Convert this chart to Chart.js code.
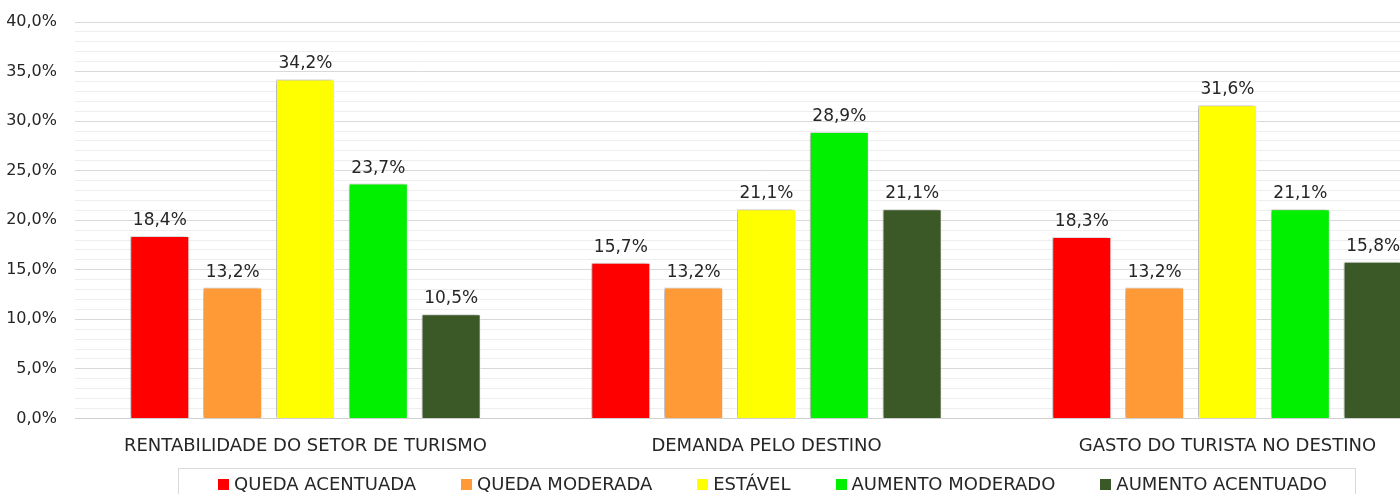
<!DOCTYPE html>
<html>
<head>
<meta charset="utf-8">
<script src="https://cdn.jsdelivr.net/npm/chart.js@4/dist/chart.umd.min.js"></script>
<style>
  html, body { margin: 0; padding: 0; background: #fff; overflow: hidden; }
  #wrap { position: absolute; left: 0; top: 0; width: 1460px; height: 494px; }
</style>
</head>
<body>
<div id="wrap"><canvas id="turismo" width="1460" height="494"></canvas></div>
<script>
// categories + series
var categorias = ["RENTABILIDADE DO SETOR DE TURISMO", "DEMANDA PELO DESTINO", "GASTO DO TURISTA NO DESTINO"];
var queda_acentuada = [18.4, 15.7, 18.3];
var queda_moderada = [13.2, 13.2, 13.2];
var estavel = [34.2, 21.1, 31.6];
var aumento_moderado = [23.7, 28.9, 21.1];
var aumento_acentuado = [10.5, 21.1, 15.8];

var fonte = "'DejaVu Sans', sans-serif";

function pct(v) {
	return v.toFixed(1).replace(".", ",") + "%";
}

// shadow on the left of the bars, value labels, legend in a box
var barras_plugin = {
	id: "barras",
	beforeDatasetsDraw: function (chart) {
		var c = chart.ctx;
		c.save();
		c.shadowColor = "rgba(0,0,0,0.35)";
		c.shadowBlur = 4;
		c.shadowOffsetX = -2;
		c.shadowOffsetY = 0;
	},
	afterDatasetsDraw: function (chart) {
		var c = chart.ctx;
		c.restore();
		c.save();
		c.font = "17px " + fonte;
		c.fillStyle = "#262626";
		c.textAlign = "center";
		c.textBaseline = "alphabetic";
		chart.data.datasets.forEach(function (ds, i) {
			chart.getDatasetMeta(i).data.forEach(function (bar, j) {
				c.fillText(pct(ds.data[j]), bar.x, bar.y - 11);
			});
		});
		c.restore();
	},
	afterDraw: function (chart) {
		var c = chart.ctx;
		var area = chart.chartArea;
		var sets = chart.data.datasets;
		c.save();
		c.font = "18px " + fonte;
		var caixa = 11, folga = 5, entre = 45;
		var total = 0;
		sets.forEach(function (ds, i) {
			total += caixa + folga + c.measureText(ds.label).width;
			if (i > 0) total += entre;
		});
		var x = (area.left + area.right) / 2 + 6 - total / 2;
		var yc = 484;
		c.strokeStyle = "#d9d9d9";
		c.lineWidth = 1;
		c.strokeRect(Math.round(x - 40) + 0.5, 468.5, Math.round(total + 68), 60);
		c.textBaseline = "middle";
		c.textAlign = "left";
		sets.forEach(function (ds) {
			c.fillStyle = ds.backgroundColor;
			c.fillRect(Math.round(x), yc - 5, caixa, caixa);
			c.fillStyle = "#262626";
			c.fillText(ds.label, x + caixa + folga, yc + 1);
			x += caixa + folga + c.measureText(ds.label).width + entre;
		});
		c.restore();
	},
};

var ctx = document.getElementById("turismo").getContext("2d");
var myChart_turismo = new Chart(ctx, {
	type: "bar",
	data: {
		labels: categorias,
		datasets: [
			{ label: "QUEDA ACENTUADA", data: queda_acentuada, backgroundColor: "#ff0000" },
			{ label: "QUEDA MODERADA", data: queda_moderada, backgroundColor: "#ff9a36" },
			{ label: "ESTÁVEL", data: estavel, backgroundColor: "#ffff00" },
			{ label: "AUMENTO MODERADO", data: aumento_moderado, backgroundColor: "#00f000" },
			{ label: "AUMENTO ACENTUADO", data: aumento_acentuado, backgroundColor: "#3b5927" },
		],
	},
	options: {
		responsive: false,
		animation: false,
		layout: { padding: { top: 22, right: 2, left: 0, bottom: 20 } },
		datasets: {
			bar: {
				categoryPercentage: 0.79,
				barPercentage: 0.81,
				borderColor: "#ffffff",
				borderWidth: 1,
			},
		},
		scales: {
			x: {
				grid: { display: false, drawTicks: false },
				border: { display: true, color: "#d0d0d0" },
				ticks: { font: { family: fonte, size: 18 }, color: "#262626", padding: 17 },
			},
			y: {
				min: 0,
				max: 40,
				border: { display: false },
				afterFit: function (scale) {
					scale.width = 75;
					scale.paddingTop = 0;
					scale.paddingBottom = 0;
				},
				grid: {
					drawTicks: false,
					color: function (c) {
						return c.tick.value % 5 === 0 ? "#d9d9d9" : "#eeeeee";
					},
				},
				ticks: {
					stepSize: 1,
					autoSkip: false,
					padding: 18,
					font: { family: fonte, size: 16 },
					color: "#262626",
					callback: function (v) {
						return v % 5 === 0 ? pct(v) : "";
					},
				},
			},
		},
		plugins: {
			tooltip: { enabled: false },
			legend: { display: false },
		},
	},
	plugins: [barras_plugin],
});
</script>
</body>
</html>
